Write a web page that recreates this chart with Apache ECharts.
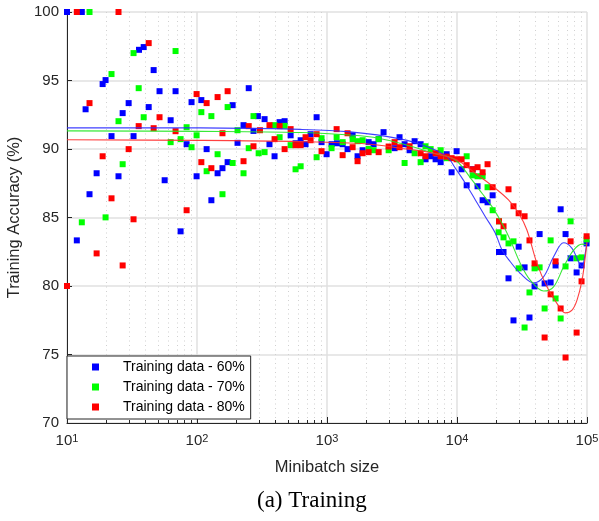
<!DOCTYPE html>
<html>
<head>
<meta charset="utf-8">
<script src="https://cdn.jsdelivr.net/npm/echarts@6/dist/echarts.min.js"></script>
<style>html,body{margin:0;padding:0;background:#fff}#c{width:599px;height:521px}</style>
</head>
<body>
<div id="c"></div>
<script>
// ---- data ----
const seriesNames = ['Training data - 60%', 'Training data - 70%', 'Training data - 80%'];
const xTickValues = [10, 100, 1000, 10000, 100000];
const yTickLabels = ['70', '75', '80', '85', '90', '95', '100'];
const minorGridValues = [20,30,40,50,60,70,80,90,200,300,400,500,600,700,800,900,
  2000,3000,4000,5000,6000,7000,8000,9000,20000,30000,40000,50000,60000,70000,80000,90000];

const blueX = [10,13,35.8,38.9,46.4,19.8,18.8,51.5,68.4,250,108,90.8,13.9,29.8,42.5,26.8,188,62.7,228,294,272,22,32.5,83.2,118.6,205,172,16.9,24.9,56.4,99.3,157,144,14.9,129,74.8,11.9,
  331,432,472,525,832,361,395,573,627,684,748,908,993,1084,1194,1319,1439,1574,1718,2723,3614,3953,4721,5250,1879,2090,2282,2497,3309,4318,5727,6271,6846,7486,8322,9087,9934,10846,11867,13189,14391,
  15740,17180,18800,21040,22800,29800,33100,43200,57300,62700,68400,74800,24900,27200,36100,39500,47200,52500,83200,90800,99300];
const blueY = [100,100,97.24,97.44,95.76,95.03,94.74,94.22,94.22,94.44,93.57,93.42,92.9,93.35,93.06,92.62,93.2,92.1,91.74,92.4,91.32,90.94,90.94,90.35,89.99,90.45,89.04,88.23,88.01,87.72,88.01,88.6,88.23,86.7,86.26,83.99,83.33,
  92.18,91.96,92.03,91.0,92.32,90.35,89.47,90.42,90.64,90.35,91.08,90.5,89.62,90.35,90.42,90.35,89.99,91.0,89.47,91.23,90.86,90.35,90.57,90.35,89.91,90.5,90.35,90.72,90.06,89.91,89.25,89.47,89.25,89.04,89.62,88.3,89.84,88.52,87.35,88.52,87.28,
  86.26,86.11,86.62,82.48,82.48,82.87,81.36,83.79,81.5,85.6,83.79,82.02,80.56,77.49,77.7,79.97,80.19,80.26,80.99,81.5,83.11];

const greenX = [14.9,32.5,68.4,22,35.6,108,129,172,272,24.9,38.9,83.2,205,99.3,74.8,62.7,90.8,144,250,298,188,26.8,118.6,228,157,13,19.8,
  395,472,432,331,525,573,627,908,832,1084,1186,1319,1574,1718,1879,2282,2497,2979,3953,4721,5250,5727,7486,11867,13189,14391,15740,17180,18800,
  21040,20900,22800,24900,27200,29800,52500,74800,83200,90800,68400,99300,39500,43200,36100,57300,47200,33100,62700,2090,6271,8322];
const greenY = [100,97.0,97.15,95.47,94.44,92.69,92.4,93.06,92.4,92.03,92.32,91.59,91.37,91.0,90.72,90.5,90.13,89.62,90.06,89.69,88.98,88.89,88.38,88.23,86.7,84.65,85.01,
  91.74,91.69,90.86,89.77,90.28,88.52,88.74,90.79,89.4,90.06,90.86,90.5,90.72,90.57,90.64,89.91,90.72,89.91,88.98,89.69,89.04,90.2,89.91,89.47,88.08,88.01,88.01,87.21,85.53,
  84.72,83.92,83.55,83.11,83.26,81.29,83.33,84.72,82.02,82.09,81.43,83.4,81.29,81.36,79.53,79.09,78.36,76.97,77.63,90.0,89.99,89.33];

const redX = [11.9,24.9,42.5,14.9,99.3,118.6,144,172,51.5,35.6,46.4,68.4,250,157,29.8,18.8,108,228,272,305,129,22,83.2,32.5,16.9,26.8,10,
  361,432,525,395,472,573,627,684,748,832,908,1186,1319,1439,1574,1718,2090,2497,3309,3614,4318,5250,5727,6846,7486,9087,9934,10846,11867,13189,14391,8322,
  15740,17180,18800,24900,21040,22800,27200,29800,33100,36100,39500,57300,74800,99300,52500,62700,47200,83200,68400,90800,1879,2979];
const redY = [100,100,97.73,93.35,94.01,93.35,93.79,94.22,92.32,91.67,91.52,91.3,91.67,91.15,89.99,89.47,89.04,89.11,90.2,91.37,88.6,86.4,85.53,84.87,82.38,81.5,80.0,
  91.74,91.67,91.45,90.72,89.99,90.28,90.28,90.86,90.64,91.08,89.84,91.45,89.55,91.15,90.13,89.11,89.77,89.77,90.5,90.13,90.2,89.69,89.47,89.69,89.47,89.33,89.25,89.25,88.82,88.52,88.67,89.44,
  88.3,88.89,87.21,87.06,84.72,84.36,85.82,85.31,85.09,83.33,81.65,81.8,83.26,83.63,79.39,78.36,76.24,76.6,74.78,80.34,89.69,90.18];

// fitted curves
const blueFitX = [10,106,624,1510,3660,6240,8380,9700,11590,13840,16520,19720,22200,25700,30700,38900,46300,55300,66100,76700,86100,91600,95500,100000];
const blueFitY = [91.54,91.54,91.43,91.25,90.74,90.08,89.44,88.6,87.5,86.28,85.06,83.85,82.62,81.77,80.92,80.23,80.67,82.13,83.16,82.75,81.77,81.4,82.04,83.21];
const greenFitX = [10,106,624,2030,3660,6610,9700,13030,15560,18580,22200,25700,30700,36600,46300,55300,66100,78900,91600,100000];
const greenFitY = [91.32,91.29,91.2,90.91,90.42,89.69,89.2,87.74,86.77,85.79,84.58,83.36,81.65,80.43,79.63,79.94,81.4,82.62,83.06,82.99];
const redFitX = [10,106,624,2030,3660,6610,10000,13840,19720,24900,29800,34500,41200,49200,58700,68100,76700,83800,91600,97000,100000];
const redFitY = [90.67,90.63,90.54,90.37,90.06,89.69,89.2,88.23,87.13,86.28,85.31,84.09,81.65,79.94,78.73,78.04,78.24,78.97,80.43,82.13,83.21];

const colors = ['#0000ff', '#00ff00', '#ff0000'];
const lineColors = ['#2b2bff', '#22e622', '#ff2b2b'];

function pairs(xs, ys) { return xs.map((x, i) => [x, ys[i]]); }

const chart = echarts.init(document.getElementById('c'), null, {renderer: 'canvas'});
const txt = '#262626';
const font = 'Liberation Sans, Arial, Helvetica, sans-serif';

const scatterData = [pairs(blueX, blueY), pairs(greenX, greenY), pairs(redX, redY)];
const fitData = [pairs(blueFitX, blueFitY), pairs(greenFitX, greenFitY), pairs(redFitX, redFitY)];

const series = [];
series.push({
  type: 'custom',
  silent: true,
  z: 1,
  data: minorGridValues.map(v => [v, 70]),
  encode: {x: 0, y: 1},
  clip: false,
  renderItem: function (params, api) {
    const v = api.value(0);
    const top = api.coord([v, 100]);
    const bot = api.coord([v, 70]);
    const x = Math.round(top[0]) + 0.5;
    return {
      type: 'group',
      children: [
        {type: 'line', shape: {x1: x, y1: top[1], x2: x, y2: bot[1]},
         style: {stroke: '#d0d0d0', lineWidth: 1, lineDash: [1, 3.5]}},
        {type: 'line', shape: {x1: x, y1: bot[1], x2: x, y2: bot[1] - 3},
         style: {stroke: txt, lineWidth: 1}}
      ]
    };
  }
});
for (let i = 0; i < 3; i++) {
  series.push({
    name: seriesNames[i],
    type: 'scatter',
    symbol: 'rect',
    symbolSize: 6,
    z: 3 + i,
    itemStyle: {color: colors[i], opacity: 1},
    data: scatterData[i],
    animation: false
  });
}
for (let i = 0; i < 3; i++) {
  series.push({
    name: 'fit' + i,
    type: 'line',
    smooth: 0.35,
    showSymbol: false,
    symbol: 'none',
    z: 10,
    lineStyle: {color: lineColors[i], width: 1.1, opacity: 0.9},
    data: fitData[i],
    animation: false
  });
}

chart.setOption({
  animation: false,
  backgroundColor: '#fff',
  title: {
    text: '(a) Training',
    left: 257, top: 489,
    padding: 0,
    textStyle: {fontFamily: 'Liberation Serif, Times New Roman, serif', fontSize: 23, fontWeight: 'normal', color: '#000'}
  },
  legend: {
    data: seriesNames,
    orient: 'vertical',
    left: 67, top: 356,
    padding: [4, 6, 5, 25],
    itemGap: 6,
    itemWidth: 7, itemHeight: 7,
    icon: 'rect',
    borderColor: '#262626', borderWidth: 1,
    backgroundColor: '#fff',
    selectedMode: false,
    textStyle: {fontFamily: font, fontSize: 14, color: '#000', padding: [0, 0, 0, 19], lineHeight: 14}
  },
  grid: {left: 67, right: 12, top: 12, bottom: 98, containLabel: false, outerBoundsMode: 'none'},
  xAxis: {
    type: 'log', logBase: 10, min: xTickValues[0], max: xTickValues[xTickValues.length - 1],
    splitNumber: 4,
    name: 'Minibatch size', nameLocation: 'middle', nameGap: 36,
    nameTextStyle: {fontFamily: font, fontSize: 16.5, color: txt},
    axisLine: {show: true, lineStyle: {color: txt, width: 1}},
    axisTick: {show: true, inside: true, length: 6, lineStyle: {color: txt}},
    axisLabel: {
      margin: 10, color: txt, fontFamily: font,
      formatter: function (v) { return '{b|10}{s|' + Math.round(Math.log10(v)) + '}'; },
      rich: {
        b: {fontSize: 15, lineHeight: 15, verticalAlign: 'bottom', fontFamily: font, color: txt},
        s: {fontSize: 11, lineHeight: 11, verticalAlign: 'top', padding: [0, 0, 8, 0], fontFamily: font, color: txt}
      }
    },
    splitLine: {show: true, lineStyle: {color: '#e0e0e0', width: 1.5}}
  },
  yAxis: {
    type: 'value', min: 70, max: 100, interval: 5,
    name: 'Training Accuracy (%)', nameLocation: 'middle', nameGap: 40, nameRotate: 90,
    nameTextStyle: {fontFamily: font, fontSize: 16.5, color: txt},
    axisLine: {show: true, lineStyle: {color: txt, width: 1}},
    axisTick: {show: true, inside: true, length: 5, lineStyle: {color: txt}},
    axisLabel: {
      margin: 8, color: txt, fontFamily: font, fontSize: 15,
      formatter: function (v) { const i = Math.round((v - 70) / 5); return yTickLabels[i] !== undefined ? yTickLabels[i] : String(v); }
    },
    splitLine: {show: true, lineStyle: {color: '#e0e0e0', width: 1.5}}
  },
  series: series
});
</script>
</body>
</html>
